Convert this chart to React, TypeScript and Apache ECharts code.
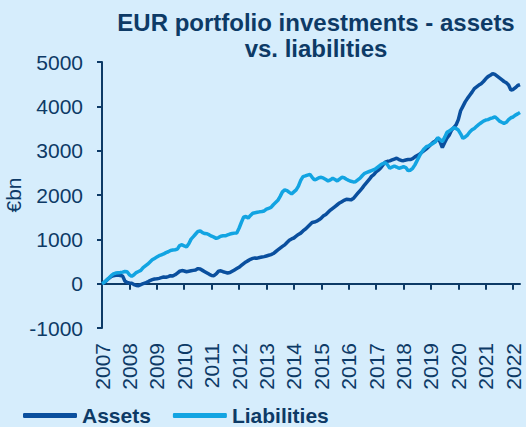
import React, { useEffect, useRef } from "react";
import * as echarts from "echarts";

const years = ["2007","2008","2009","2010","2011","2012","2013","2014","2015","2016","2017","2018","2019","2020","2021","2022"];
const monthsInLastYear = 4;

const assets = [
  0, 30, 70, 120, 160, 180, 190, 195, 185, 175, 60, 25,
  15, 10, -20, -40, -45, -20, 0, 15, 40, 70, 90, 105,
  110, 120, 135, 150, 145, 160, 180, 175, 200, 240, 280, 295,
  285, 270, 280, 290, 300, 310, 340, 330, 300, 270, 240, 210,
  185, 180, 220, 280, 290, 270, 255, 240, 250, 280, 310, 340,
  370, 410, 450, 490, 520, 550, 570, 580, 575, 590, 600, 610,
  625, 640, 655, 680, 720, 760, 800, 840, 875, 930, 980, 1010,
  1030, 1070, 1110, 1140, 1190, 1230, 1280, 1330, 1380, 1390, 1410, 1440,
  1480, 1530, 1560, 1610, 1660, 1700, 1740, 1780, 1820, 1850, 1880, 1905,
  1900, 1890, 1920, 1980, 2040, 2100, 2160, 2230, 2290, 2350, 2420, 2460,
  2520, 2560, 2610, 2680, 2740, 2760, 2770, 2790, 2810, 2830, 2800, 2780,
  2775, 2790, 2800, 2800, 2820, 2860, 2890, 2920, 2960, 3000, 3040, 3090,
  3140, 3190, 3220, 3280, 3200, 3070, 3180, 3280, 3350, 3460, 3520, 3580,
  3700, 3900, 4000, 4100, 4180, 4250, 4320, 4400, 4440, 4480, 4510, 4560,
  4620, 4670, 4700, 4740, 4720, 4680, 4640, 4600, 4560, 4530, 4480, 4370,
  4380, 4420, 4470, 4490,
];

const liabilities = [
  0, 30, 80, 130, 180, 220, 240, 245, 250, 260, 275, 270,
  200, 165, 200, 250, 275, 300, 360, 400, 440, 490, 540, 570,
  600, 630, 650, 670, 700, 720, 750, 760, 765, 780, 860, 880,
  850, 830, 900, 1005, 1060, 1120, 1180, 1190, 1150, 1130, 1125, 1100,
  1070, 1050, 1020, 1040, 1070, 1080, 1080, 1100, 1120, 1130, 1140, 1145,
  1250, 1380, 1500, 1520, 1480, 1540, 1590, 1600, 1610, 1620, 1627, 1640,
  1680, 1700, 1720, 1780, 1830, 1880, 1970, 2070, 2115, 2100, 2060, 2025,
  2070, 2115, 2200, 2330, 2415, 2430, 2450, 2467, 2400, 2340, 2360, 2390,
  2400, 2380, 2350, 2317, 2340, 2377, 2350, 2317, 2360, 2400, 2390, 2355,
  2330, 2310, 2295, 2300, 2340, 2380, 2440, 2490, 2510, 2530, 2550, 2570,
  2600, 2640, 2680, 2710, 2730, 2680, 2602, 2630, 2655, 2630, 2602, 2620,
  2640, 2620, 2550, 2560, 2602, 2680, 2780, 2880, 2970, 3040, 3090, 3110,
  3140, 3165, 3200, 3292, 3250, 3202, 3300, 3412, 3440, 3480, 3517, 3500,
  3465, 3380, 3277, 3310, 3352, 3420, 3470, 3502, 3550, 3592, 3630, 3667,
  3690, 3700, 3727, 3740, 3765, 3720, 3667, 3640, 3615, 3640, 3700, 3742,
  3760, 3802, 3830, 3862,
];

const yTicks = { min: -1000, max: 5000, interval: 1000 };

const monthCategories: string[] = [];
years.forEach((y, i) => {
  const n = i === years.length - 1 ? monthsInLastYear : 12;
  for (let m = 1; m <= n; m++) monthCategories.push(`${y}-${String(m).padStart(2, "0")}`);
});

const NAVY = "#0d3a66";
const FONT = "'Liberation Sans', Arial, sans-serif";

export default function App() {
  const ref = useRef<HTMLDivElement>(null);
  useEffect(() => {
    if (!ref.current) return;
    const chart = echarts.init(ref.current, undefined, { renderer: "svg" });
    const isYearStart = (i: number) => i % 12 === 0;
    chart.setOption({
      animation: false,
      backgroundColor: "#d6edfc",
      textStyle: { fontFamily: FONT },
      title: {
        text: "EUR portfolio investments - assets\nvs. liabilities",
        left: 311,
        top: 4,
        textAlign: "center",
        textStyle: { fontSize: 24, fontWeight: "bold", color: NAVY, lineHeight: 26, fontFamily: FONT },
      },
      legend: {
        left: 18,
        top: 400,
        icon: "roundRect",
        itemWidth: 54,
        itemHeight: 5,
        itemGap: 22,
        textStyle: { fontSize: 21, lineHeight: 20, fontWeight: "bold", color: NAVY, fontFamily: FONT },
        data: ["Assets", "Liabilities"],
      },
      grid: { left: 102, right: 6, top: 62, bottom: 99, containLabel: false, outerBoundsMode: "none" },
      xAxis: [
        {
          type: "category",
          data: monthCategories,
          boundaryGap: false,
          position: "bottom",
          axisLine: { show: false, onZero: false },
          axisTick: { show: false },
          axisLabel: {
            interval: (i: number) => isYearStart(i),
            formatter: (v: string) => v.slice(0, 4),
            rotate: 90,
            margin: 15,
            fontSize: 21,
            color: NAVY,
            fontFamily: FONT,
          },
          splitLine: { show: false },
        },
        {
          type: "category",
          data: monthCategories,
          boundaryGap: false,
          position: "bottom",
          axisLine: { show: true, onZero: true, lineStyle: { color: NAVY, width: 2 } },
          axisTick: { show: true, interval: (i: number) => isYearStart(i), length: 6, lineStyle: { color: NAVY, width: 2 } },
          axisLabel: { show: false },
          splitLine: { show: false },
        },
      ],
      yAxis: {
        type: "value",
        min: yTicks.min,
        max: yTicks.max,
        interval: yTicks.interval,
        name: "€bn",
        nameLocation: "middle",
        nameGap: 78,
        nameMoveOverlap: false,
        nameTextStyle: { fontSize: 21, color: NAVY, fontFamily: FONT },
        axisLine: { show: true, lineStyle: { color: NAVY, width: 2 } },
        axisTick: { show: true, length: 5, lineStyle: { color: NAVY, width: 2 } },
        axisLabel: { fontSize: 21, color: NAVY, margin: 19, fontFamily: FONT, formatter: (v: number) => String(v) },
        splitLine: { show: false },
      },
      series: [
        {
          name: "Assets",
          type: "line",
          xAxisIndex: 0,
          data: assets,
          symbol: "none",
          lineStyle: { color: "#0a4f9e", width: 3.5 },
          itemStyle: { color: "#0a4f9e" },
        },
        {
          name: "Liabilities",
          type: "line",
          xAxisIndex: 0,
          data: liabilities,
          symbol: "none",
          lineStyle: { color: "#12a4e2", width: 3.5 },
          itemStyle: { color: "#12a4e2" },
        },
      ],
    });
    return () => chart.dispose();
  }, []);
  return <div ref={ref} style={{ position: "fixed", left: 0, top: 0, width: 526, height: 427 }} />;
}
